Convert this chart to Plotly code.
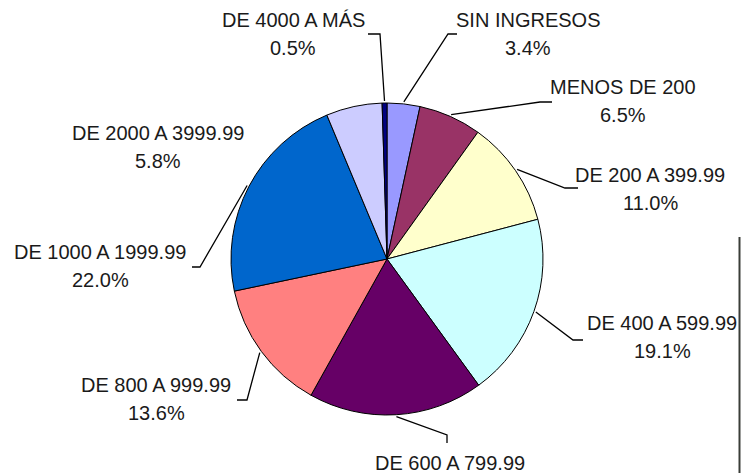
import numpy as np
import plotly.graph_objects as go

# ---- data ----
categories = ["SIN INGRESOS", "MENOS DE 200", "DE 200 A 399.99", "DE 400 A 599.99",
              "DE 600 A 799.99", "DE 800 A 999.99", "DE 1000 A 1999.99",
              "DE 2000 A 3999.99", "DE 4000 A MÁS"]
values = [3.4, 6.5, 11.0, 19.1, 18.1, 13.6, 22.0, 5.8, 0.5]
colors = ["#9999ff", "#993366", "#ffffcc", "#ccffff", "#660066",
          "#ff8080", "#0066cc", "#ccccff", "#000080"]

# ---- layout constants (pixels) ----
W, H = 741, 473
CX, CY, R = 387, 259, 156
# label centre (first line) positions
label_pos = [(528, 20), (623, 87), (650, 175), (662, 323), (450, 463),
             (156, 385), (100, 252), (158, 133), (293, 20)]
# leader stub end and elbow (None = no leader)
leaders = [((457, 34), (448, 34)), ((552, 102), (540, 102)), ((578, 188), (565, 188)),
           ((583, 340), (573, 340)), ((447, 443), (447, 435)), ((237, 400), (247, 400)),
           ((192, 267), (200, 267)), None, ((368, 34), (380, 34))]

def px(x):
    return x / W

def py(y):
    return 1 - y / H

fig = go.Figure(go.Pie(
    labels=categories, values=values, sort=False, direction="clockwise", rotation=0,
    marker=dict(colors=colors, line=dict(color="black", width=1)),
    textinfo="none", hoverinfo="label+percent", showlegend=False,
    domain=dict(x=[px(CX - R), px(CX + R)], y=[py(CY + R), py(CY - R)]),
))

tot = sum(values)
cum = np.cumsum([0] + values[:-1])
shapes = []
annotations = []
font = dict(family="Liberation Sans, Arial, sans-serif", size=20, color="#1a1a1a")
for i, (name, v) in enumerate(zip(categories, values)):
    mid = (cum[i] + v / 2) / tot * 2 * np.pi
    ax = CX + (R + 2) * np.sin(mid)
    ay = CY - (R + 2) * np.cos(mid)
    lx, ly = label_pos[i]
    annotations.append(dict(x=px(lx), y=py(ly), xref="paper", yref="paper", text=name,
                            showarrow=False, font=font, xanchor="center", yanchor="middle"))
    annotations.append(dict(x=px(lx), y=py(ly + 28), xref="paper", yref="paper",
                            text=f"{v / tot * 100:.1f}%",
                            showarrow=False, font=font, xanchor="center", yanchor="middle"))
    if leaders[i] is not None:
        (sx, sy), (ex, ey) = leaders[i]
        path = f"M {px(sx)},{py(sy)} L {px(ex)},{py(ey)} L {px(ax)},{py(ay)}"
        shapes.append(dict(type="path", path=path, xref="paper", yref="paper",
                           line=dict(color="black", width=1.3)))

# screen edge artifact line at right
shapes.append(dict(type="line", xref="paper", yref="paper", x0=px(739.5), x1=px(739.5),
                   y0=py(237), y1=0, line=dict(color="#3a3d38", width=2)))

fig.update_layout(width=W, height=H, margin=dict(l=0, r=0, t=0, b=0),
                  paper_bgcolor="white", plot_bgcolor="white",
                  shapes=shapes, annotations=annotations)
fig.write_html("out.html", config=dict(displayModeBar=False),
               post_script="document.body.style.margin='0';document.body.style.overflow='hidden';")
